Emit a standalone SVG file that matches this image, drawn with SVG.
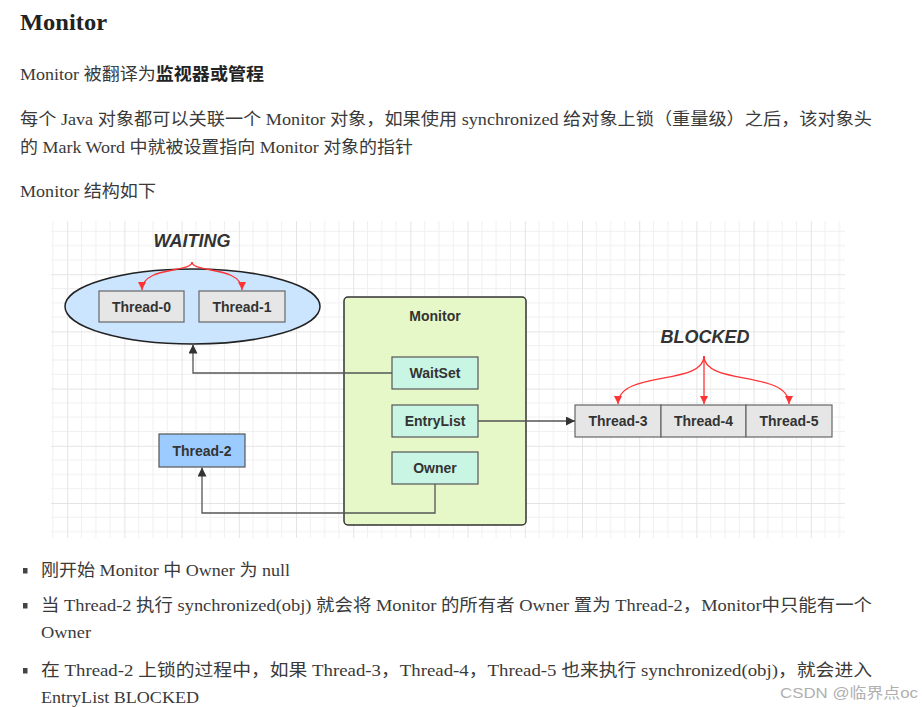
<svg xmlns="http://www.w3.org/2000/svg" width="922" height="707" viewBox="0 0 922 707">
<defs>
<style>
.body{font-family:"Liberation Serif","Noto Sans CJK SC",serif;font-size:17px;fill:#3a3a3a}
.title{font-family:"Liberation Serif","Noto Sans CJK SC",serif;font-size:24px;font-weight:bold;fill:#222}
.lbl{font-family:"Liberation Sans","DejaVu Sans",sans-serif;font-size:14px;font-weight:bold;fill:#333;text-anchor:middle}
.state{font-family:"Liberation Sans","DejaVu Sans",sans-serif;font-size:18px;font-weight:bold;font-style:italic;fill:#333;text-anchor:middle}
.thr{fill:#e6e6e6;stroke:#666;stroke-width:1.2}
.sub{fill:#c9f6e4;stroke:#555;stroke-width:1.2}
.conn{fill:none;stroke:#555;stroke-width:1.3}
.red{fill:none;stroke:#f33;stroke-width:1.3}
.wm{font-family:"Liberation Sans","Noto Sans CJK SC",sans-serif;font-size:15px;fill:#b0b0b0}
</style>
<pattern id="grid" width="57.2" height="57.2" patternUnits="userSpaceOnUse" x="10" y="45.4">
<path d="M14.3,0V57.2M28.6,0V57.2M42.9,0V57.2M0,14.3H57.2M0,28.6H57.2M0,42.9H57.2" stroke="#f0f0f0" stroke-width="1" fill="none"/>
<path d="M0.5,0V57.2M0,0.5H57.2" stroke="#e4e4e4" stroke-width="1" fill="none"/>
</pattern>
<marker id="ad" viewBox="0 0 10 10" refX="10" refY="5" markerWidth="10" markerHeight="9" markerUnits="userSpaceOnUse" orient="auto">
<path d="M0,0L10,5L0,10z" fill="#333"/>
</marker>
<marker id="ar" viewBox="0 0 10 10" refX="10" refY="5" markerWidth="10" markerHeight="8" markerUnits="userSpaceOnUse" orient="auto">
<path d="M0,0L10,5L0,10z" fill="#f33"/>
</marker>
</defs>
<rect width="922" height="707" fill="#fff"/>

<g id="text-top">
<text class="title" x="20" y="30" textLength="87" lengthAdjust="spacingAndGlyphs">Monitor</text>
<text class="body" x="20" y="80" textLength="244" lengthAdjust="spacingAndGlyphs">Monitor 被翻译为<tspan font-weight="bold" fill="#222">监视器或管程</tspan></text>
<text class="body" x="20" y="125" textLength="852" lengthAdjust="spacingAndGlyphs">每个 Java 对象都可以关联一个 Monitor 对象，如果使用 synchronized 给对象上锁（重量级）之后，该对象头</text>
<text class="body" x="20" y="153" textLength="393" lengthAdjust="spacingAndGlyphs">的 Mark Word 中就被设置指向 Monitor 对象的指针</text>
<text class="body" x="20" y="197" textLength="136" lengthAdjust="spacingAndGlyphs">Monitor 结构如下</text>
</g>

<rect id="canvas" x="51" y="221" width="794" height="317" fill="url(#grid)"/>

<g id="waiting">
<ellipse cx="192.5" cy="306.5" rx="127.5" ry="37.5" fill="#cce5ff" stroke="#222" stroke-width="1.5"/>
<text class="state" x="192" y="247">WAITING</text>
</g>
<g id="thread-0"><rect class="thr" x="99" y="291" width="85" height="31"/><text class="lbl" x="141.5" y="311.5">Thread-0</text></g>
<g id="thread-1"><rect class="thr" x="199" y="291" width="86" height="31"/><text class="lbl" x="242" y="311.5">Thread-1</text></g>

<g id="monitor">
<rect x="344" y="297" width="182" height="228" rx="4" fill="#e6f8c8" stroke="#333" stroke-width="1.5"/>
<text class="lbl" x="435" y="321">Monitor</text>
</g>
<g id="waitset"><rect class="sub" x="392" y="357" width="86" height="32"/><text class="lbl" x="435" y="378">WaitSet</text></g>
<g id="entrylist"><rect class="sub" x="392" y="405" width="86" height="32"/><text class="lbl" x="435" y="426">EntryList</text></g>
<g id="owner"><rect class="sub" x="392" y="452" width="86" height="32"/><text class="lbl" x="435" y="473">Owner</text></g>

<g id="thread-2"><rect x="159" y="434" width="86" height="33" fill="#9ccbff" stroke="#555" stroke-width="1.2"/><text class="lbl" x="202" y="455.5">Thread-2</text></g>

<g id="blocked"><text class="state" x="705" y="343" font-size="17">BLOCKED</text></g>
<g id="thread-3"><rect class="thr" x="575" y="405" width="86" height="32"/><text class="lbl" x="618" y="426">Thread-3</text></g>
<g id="thread-4"><rect class="thr" x="661" y="405" width="85" height="32"/><text class="lbl" x="703.5" y="426">Thread-4</text></g>
<g id="thread-5"><rect class="thr" x="746" y="405" width="86" height="32"/><text class="lbl" x="789" y="426">Thread-5</text></g>

<g id="connectors">
<path class="red" d="M192,262C192,273 142,266 142,290" marker-end="url(#ar)"/>
<path class="red" d="M192,262C192,273 242,266 242,290" marker-end="url(#ar)"/>
<path class="red" d="M704,356C704,386 618,370 618,404" marker-end="url(#ar)"/>
<path class="red" d="M704,356V404" marker-end="url(#ar)"/>
<path class="red" d="M704,356C704,386 789,370 789,404" marker-end="url(#ar)"/>
<path class="conn" d="M392,373H193V344.5" marker-end="url(#ad)"/>
<path class="conn" d="M478,421H575" marker-end="url(#ad)"/>
<path class="conn" d="M435,484V513H202V467.5" marker-end="url(#ad)"/>
</g>

<g id="bullets">
<rect x="23" y="568" width="4.5" height="5.5" fill="#444"/>
<rect x="23" y="603" width="4.5" height="5.5" fill="#444"/>
<rect x="23" y="668" width="4.5" height="5.5" fill="#444"/>
<text class="body" x="41" y="576" textLength="249" lengthAdjust="spacingAndGlyphs">刚开始 Monitor 中 Owner 为 null</text>
<text class="body" x="41" y="611" textLength="831" lengthAdjust="spacingAndGlyphs">当 Thread-2 执行 synchronized(obj) 就会将 Monitor 的所有者 Owner 置为 Thread-2，Monitor中只能有一个</text>
<text class="body" x="41" y="638" textLength="50" lengthAdjust="spacingAndGlyphs">Owner</text>
<text class="body" x="41" y="676" textLength="831" lengthAdjust="spacingAndGlyphs">在 Thread-2 上锁的过程中，如果 Thread-3，Thread-4，Thread-5 也来执行 synchronized(obj)，就会进入</text>
<text class="body" x="41" y="703" textLength="158" lengthAdjust="spacingAndGlyphs">EntryList BLOCKED</text>
<text class="wm" x="780" y="698" textLength="138" lengthAdjust="spacingAndGlyphs">CSDN @临界点oc</text>
</g>
</svg>
